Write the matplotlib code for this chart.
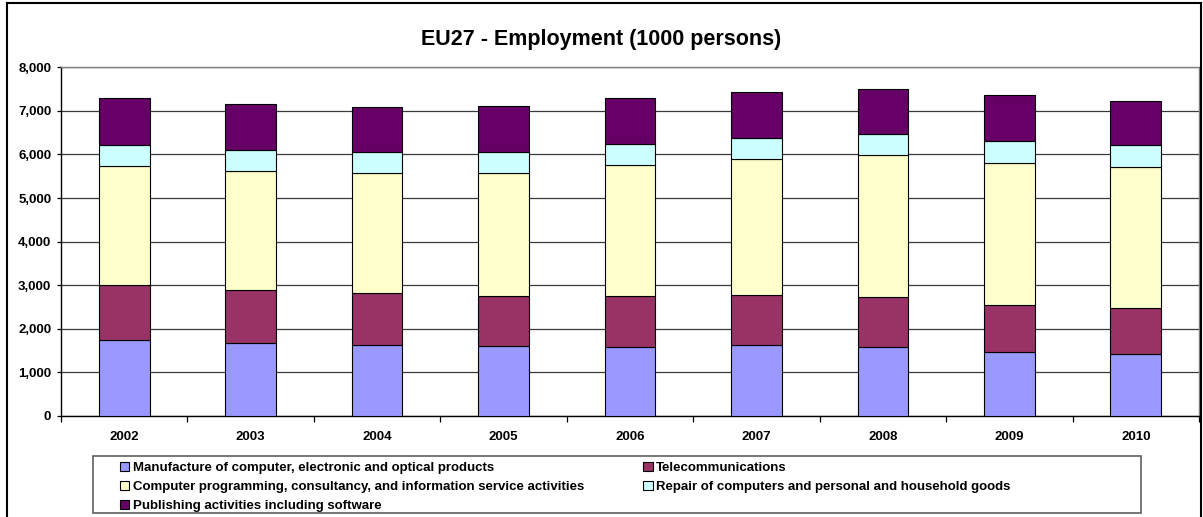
import matplotlib
matplotlib.use("Agg")
import matplotlib.pyplot as plt
from matplotlib.patches import Rectangle
from matplotlib.lines import Line2D
import numpy as np

plt.rcParams['font.family'] = ['Liberation Sans', 'DejaVu Sans']
plt.rcParams['font.weight'] = 'bold'

years = ["2002", "2003", "2004", "2005", "2006", "2007", "2008", "2009", "2010"]
manufacture = [1743, 1667, 1629, 1606, 1591, 1629, 1590, 1468, 1422]
telecom = [1262, 1216, 1185, 1155, 1154, 1147, 1133, 1078, 1048]
programming = [2723, 2738, 2753, 2814, 3006, 3112, 3257, 3265, 3235]
repair = [497, 481, 482, 481, 481, 497, 489, 505, 505]
publishing = [1063, 1049, 1047, 1048, 1056, 1056, 1025, 1048, 1009]

series = [
    ("Manufacture of computer, electronic and optical products", manufacture, "#9999FF"),
    ("Telecommunications", telecom, "#993366"),
    ("Computer programming, consultancy, and information service activities", programming, "#FFFFCC"),
    ("Repair of computers and personal and household goods", repair, "#CCFFFF"),
    ("Publishing activities including software", publishing, "#660066"),
]

W, H = 1203, 517
fig = plt.figure(figsize=(W / 100, H / 100), dpi=100)
ax = fig.add_axes([61 / W, 1 - 416 / H, (1199 - 61) / W, (416 - 67.3) / H])

x = np.arange(len(years))
bottom = np.zeros(len(years))
handles = {}
for name, vals, col in series:
    b = ax.bar(x, vals, width=0.4, bottom=bottom, color=col, edgecolor="black",
               linewidth=0.8, label=name, zorder=3)
    handles[name] = b
    bottom += np.array(vals)

ax.set_xlim(-0.5, len(years) - 0.5)
ax.set_ylim(0, 8000)
ax.set_yticks(np.arange(0, 8001, 1000))
ax.set_yticklabels([f"{v:,}" for v in range(0, 8001, 1000)], fontsize=9.5, fontweight='bold')
ax.yaxis.grid(True, color="#3a3a3a", linewidth=0.9, zorder=0)
ax.set_axisbelow(True)

ax.set_xticks(x)
ax.set_xticklabels(years, fontsize=9.5, fontweight='bold')
ax.tick_params(axis='x', which='major', length=0, pad=11)
ax.set_xticks(np.arange(-0.5, len(years), 1.0), minor=True)
ax.tick_params(axis='x', which='minor', length=4, width=0.9, direction='out', color='black')
ax.tick_params(axis='y', length=3, width=0.9, direction='out', pad=4)

for s in ['left', 'bottom']:
    ax.spines[s].set_color('black')
    ax.spines[s].set_linewidth(1.0)
for s in ['top', 'right']:
    ax.spines[s].set_color('#808080')
    ax.spines[s].set_linewidth(1.0)

fig.text(601 / W, 1 - 40 / H, "EU27 - Employment (1000 persons)", fontsize=15.5,
         fontweight='bold', ha='center', va='center')

# legend
order = [series[0][0], series[2][0], series[4][0], series[1][0], series[3][0]]
leg = fig.legend([handles[n] for n in order], order, ncol=2,
                 loc='upper left', bbox_to_anchor=(111 / W, 1 - 453 / H),
                 frameon=False, prop={'weight': 'bold', 'size': 9.5},
                 handlelength=0.7, handleheight=0.7, handletextpad=0.25,
                 columnspacing=4.5, labelspacing=0.5, borderpad=0.2)

fig.add_artist(Rectangle((93 / W, 1 - 513 / H), (1141 - 93) / W, (513 - 456) / H,
                         transform=fig.transFigure, fill=False,
                         edgecolor='#606060', linewidth=1.2))

# outer frame
lw = 1.5
fig.add_artist(Line2D([7 / W, 7 / W], [0, 1 - 3 / H], transform=fig.transFigure, color='black', linewidth=lw))
fig.add_artist(Line2D([7 / W, 1201 / W], [1 - 3 / H, 1 - 3 / H], transform=fig.transFigure, color='black', linewidth=lw))
fig.add_artist(Line2D([1201 / W, 1201 / W], [0, 1 - 3 / H], transform=fig.transFigure, color='black', linewidth=lw))

fig.savefig("out.png", dpi=100)
